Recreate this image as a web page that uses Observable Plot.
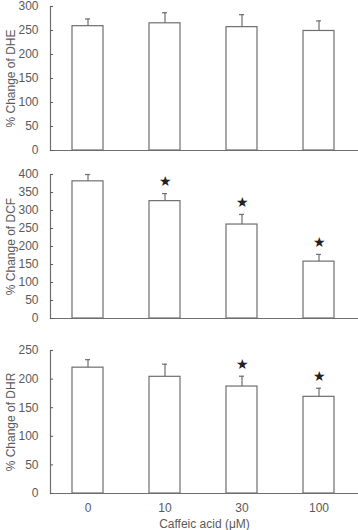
<!DOCTYPE html>
<html>
<head>
<meta charset="utf-8">
<script src="https://cdn.jsdelivr.net/npm/d3@7"></script>
<script src="https://cdn.jsdelivr.net/npm/@observablehq/plot@0.6"></script>
<style>
  html, body { margin: 0; padding: 0; background: #fff; }
  #chart svg { display: block; }
</style>
</head>
<body>
<div id="chart"></div>
<script>
const doses = ["0", "10", "30", "100"];
const xLabel = "Caffeic acid (μM)";

const dheLabel = "% Change of DHE";
const dheValues = [259, 265, 257, 249];
const dheErrors = [15, 22, 26, 21];
const dheSig = [false, false, false, false];
const dheTicks = [0, 50, 100, 150, 200, 250, 300];

const dcfLabel = "% Change of DCF";
const dcfValues = [381, 326, 261, 158];
const dcfErrors = [19, 21, 28, 20];
const dcfSig = [false, true, true, true];
const dcfTicks = [0, 50, 100, 150, 200, 250, 300, 350, 400];

const dhrLabel = "% Change of DHR";
const dhrValues = [220, 204, 187, 169];
const dhrErrors = [14, 22, 18, 15];
const dhrSig = [false, false, true, true];
const dhrTicks = [0, 50, 100, 150, 200, 250];

const LINE = "#6e6e6e";
const TEXT = "#5a5a5a";

function panel({values, errors, sig, ticks, label, height, mt, mb, xaxis}) {
  const data = doses.map((d, i) => ({dose: d, v: values[i], top: values[i] + errors[i], sig: sig[i]}));
  const marks = [
    Plot.barY(data, {x: "dose", y: "v", fill: "white", stroke: LINE, strokeWidth: 1.2}),
    Plot.ruleX(data, {x: "dose", y1: "v", y2: "top", stroke: LINE, strokeWidth: 1.2}),
    Plot.tickY(data, {x: "dose", y: "top", stroke: LINE, strokeWidth: 1.2, inset: 13}),
    Plot.text(data.filter(d => d.sig), {x: "dose", y: "top", text: () => "★", dy: -12, fontSize: 14, fill: "#222"}),
    Plot.frame({anchor: "left", stroke: LINE, strokeWidth: 1.2}),
    Plot.frame({anchor: "bottom", stroke: LINE, strokeWidth: 1.2}),
    Plot.axisY({ticks, tickSize: -3, tickPadding: 15, tickFormat: d => String(d), label, labelAnchor: "center", labelArrow: "none", labelOffset: 44})
  ];
  if (xaxis) marks.push(Plot.axisX({tickSize: 0, tickPadding: 10, label: xLabel, labelAnchor: "center", labelArrow: "none", labelOffset: 34}));
  return Plot.plot({
    width: 358,
    height,
    marginLeft: 50,
    marginRight: 0,
    marginTop: mt,
    marginBottom: mb,
    style: {fontSize: "12px", fontFamily: "'Liberation Sans', Arial, sans-serif", color: TEXT, background: "white"},
    x: {domain: doses, paddingInner: 0.6, paddingOuter: 0.29, align: 0.47, axis: xaxis ? undefined : null},
    y: {domain: [0, ticks[ticks.length - 1]]},
    marks
  });
}

const root = document.getElementById("chart");
root.append(panel({values: dheValues, errors: dheErrors, sig: dheSig, ticks: dheTicks, label: dheLabel, height: 165, mt: 6, mb: 15, xaxis: false}));
root.append(panel({values: dcfValues, errors: dcfErrors, sig: dcfSig, ticks: dcfTicks, label: dcfLabel, height: 170, mt: 9, mb: 17, xaxis: false}));
root.append(panel({values: dhrValues, errors: dhrErrors, sig: dhrSig, ticks: dhrTicks, label: dhrLabel, height: 195, mt: 15, mb: 37, xaxis: true}));
</script>
</body>
</html>
